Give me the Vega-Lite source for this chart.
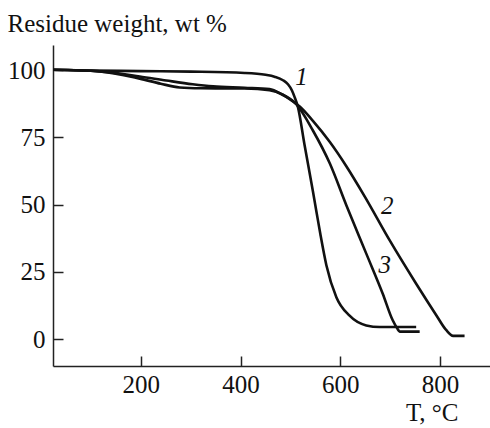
{
  "$schema": "https://vega.github.io/schema/vega-lite/v6.json",
  "autosize": "none",
  "width": 437,
  "height": 321,
  "padding": {"left": 53, "top": 45, "right": 0, "bottom": 62},
  "background": "white",
  "config": {
    "view": {"stroke": null},
    "font": "Liberation Serif",
    "axis": {
      "labelFont": "Liberation Serif",
      "labelFontSize": 25,
      "labelColor": "#111",
      "titleFont": "Liberation Serif",
      "titleFontSize": 25,
      "titleFontWeight": "normal",
      "titleColor": "#111",
      "domainColor": "#222",
      "domainWidth": 1.5,
      "tickColor": "#222",
      "tickWidth": 1.5,
      "tickSize": -10,
      "grid": false
    }
  },
  "datasets": {
    "curves": [
      {"curve": "1", "i": 1, "T": 25, "W": 100.2},
      {"curve": "1", "i": 2, "T": 100, "W": 99.9},
      {"curve": "1", "i": 3, "T": 200, "W": 99.7},
      {"curve": "1", "i": 4, "T": 300, "W": 99.5},
      {"curve": "1", "i": 5, "T": 408, "W": 99.0},
      {"curve": "1", "i": 6, "T": 450, "W": 98.3},
      {"curve": "1", "i": 7, "T": 468, "W": 97.6},
      {"curve": "1", "i": 8, "T": 485, "W": 96.3},
      {"curve": "1", "i": 9, "T": 495, "W": 94.8},
      {"curve": "1", "i": 10, "T": 503, "W": 92.5},
      {"curve": "1", "i": 11, "T": 508, "W": 90.2},
      {"curve": "1", "i": 12, "T": 515, "W": 86.3},
      {"curve": "1", "i": 13, "T": 528, "W": 72.5},
      {"curve": "1", "i": 14, "T": 545, "W": 55.0},
      {"curve": "1", "i": 15, "T": 552, "W": 47.5},
      {"curve": "1", "i": 16, "T": 560, "W": 39.0},
      {"curve": "1", "i": 17, "T": 572, "W": 27.5},
      {"curve": "1", "i": 18, "T": 592, "W": 15.6},
      {"curve": "1", "i": 19, "T": 618, "W": 8.8},
      {"curve": "1", "i": 20, "T": 652, "W": 5.1},
      {"curve": "1", "i": 21, "T": 679, "W": 4.5},
      {"curve": "1", "i": 22, "T": 752, "W": 4.5},
      {"curve": "2", "i": 1, "T": 25, "W": 100.2},
      {"curve": "2", "i": 2, "T": 117, "W": 99.6},
      {"curve": "2", "i": 3, "T": 198, "W": 96.9},
      {"curve": "2", "i": 4, "T": 240, "W": 95.0},
      {"curve": "2", "i": 5, "T": 278, "W": 93.6},
      {"curve": "2", "i": 6, "T": 320, "W": 93.3},
      {"curve": "2", "i": 7, "T": 408, "W": 93.2},
      {"curve": "2", "i": 8, "T": 458, "W": 92.6},
      {"curve": "2", "i": 9, "T": 485, "W": 90.9},
      {"curve": "2", "i": 10, "T": 505, "W": 88.4},
      {"curve": "2", "i": 11, "T": 518, "W": 86.6},
      {"curve": "2", "i": 12, "T": 545, "W": 81.2},
      {"curve": "2", "i": 13, "T": 579, "W": 73.3},
      {"curve": "2", "i": 14, "T": 612, "W": 64.3},
      {"curve": "2", "i": 15, "T": 649, "W": 53.0},
      {"curve": "2", "i": 16, "T": 699, "W": 36.7},
      {"curve": "2", "i": 17, "T": 752, "W": 20.6},
      {"curve": "2", "i": 18, "T": 792, "W": 9.0},
      {"curve": "2", "i": 19, "T": 812, "W": 3.4},
      {"curve": "2", "i": 20, "T": 826, "W": 1.2},
      {"curve": "2", "i": 21, "T": 849, "W": 1.2},
      {"curve": "3", "i": 1, "T": 25, "W": 100.2},
      {"curve": "3", "i": 2, "T": 117, "W": 99.6},
      {"curve": "3", "i": 3, "T": 198, "W": 97.7},
      {"curve": "3", "i": 4, "T": 251, "W": 96.2},
      {"curve": "3", "i": 5, "T": 304, "W": 94.8},
      {"curve": "3", "i": 6, "T": 345, "W": 94.0},
      {"curve": "3", "i": 7, "T": 408, "W": 93.5},
      {"curve": "3", "i": 8, "T": 458, "W": 93.0},
      {"curve": "3", "i": 9, "T": 485, "W": 90.8},
      {"curve": "3", "i": 10, "T": 505, "W": 88.6},
      {"curve": "3", "i": 11, "T": 512, "W": 87.3},
      {"curve": "3", "i": 12, "T": 545, "W": 77.6},
      {"curve": "3", "i": 13, "T": 579, "W": 65.3},
      {"curve": "3", "i": 14, "T": 612, "W": 49.8},
      {"curve": "3", "i": 15, "T": 652, "W": 31.8},
      {"curve": "3", "i": 16, "T": 685, "W": 16.9},
      {"curve": "3", "i": 17, "T": 705, "W": 7.0},
      {"curve": "3", "i": 18, "T": 714, "W": 4.0},
      {"curve": "3", "i": 19, "T": 719, "W": 2.8},
      {"curve": "3", "i": 20, "T": 759, "W": 2.8}
    ],
    "labels": [
      {"label": "1", "T": 522, "W": 97.5},
      {"label": "2", "T": 694, "W": 49.7},
      {"label": "3", "T": 689, "W": 27.5}
    ]
  },
  "layer": [
    {
      "data": {"name": "curves"},
      "mark": {"type": "line", "color": "#111", "strokeWidth": 2.6, "interpolate": "monotone"},
      "encoding": {
        "x": {
          "field": "T", "type": "quantitative",
          "scale": {"domain": [24, 900], "nice": false, "zero": false},
          "axis": {
            "values": [200, 400, 600, 800],
            "title": "T, °C",
            "titleAlign": "right",
            "titleAnchor": null,
            "titleX": 405,
            "titleY": 54,
            "titleBaseline": "alphabetic",
            "labelPadding": 16
          }
        },
        "y": {
          "field": "W", "type": "quantitative",
          "scale": {"domain": [-10, 109.4], "nice": false, "zero": false},
          "axis": {
            "values": [0, 25, 50, 75, 100],
            "title": "Residue weight, wt %",
            "titleAngle": 0,
            "titleAlign": "left",
            "titleAnchor": null,
            "titleX": -46,
            "titleY": -14,
            "titleBaseline": "alphabetic",
            "labelPadding": 18
          }
        },
        "detail": {"field": "curve"},
        "order": {"field": "i"}
      }
    },
    {
      "data": {"name": "labels"},
      "mark": {"type": "text", "font": "Liberation Serif", "fontStyle": "italic", "fontSize": 25, "color": "#111", "align": "center", "baseline": "middle"},
      "encoding": {
        "x": {"field": "T", "type": "quantitative"},
        "y": {"field": "W", "type": "quantitative"},
        "text": {"field": "label"}
      }
    }
  ]
}
